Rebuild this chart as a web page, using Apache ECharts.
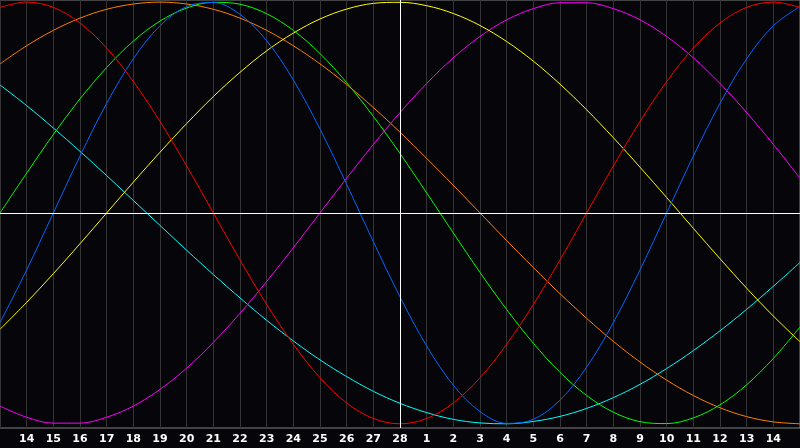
<!DOCTYPE html>
<html>
<head>
<meta charset="utf-8">
<script src="https://cdn.jsdelivr.net/npm/echarts@6/dist/echarts.min.js"></script>
<style>
  html, body { margin: 0; padding: 0; background: #060509; }
  #chart { width: 800px; height: 448px; }
</style>
</head>
<body>
<div id="chart"></div>
<script>
// day labels under each grid line (first and last are off-screen)
var days = ['13', '14', '15', '16', '17', '18', '19', '20', '21', '22', '23', '24', '25', '26', '27', '28',
  '1', '2', '3', '4', '5', '6', '7', '8', '9', '10', '11', '12', '13', '14', '15']

// one value per day (-1 .. 1)
var red = [0.975, 1, 0.975, 0.901, 0.782, 0.623, 0.434, 0.223, 0, -0.223, -0.434, -0.623, -0.782, -0.901, -0.975, -1,
  -0.975, -0.901, -0.782, -0.623, -0.434, -0.223, 0, 0.223, 0.434, 0.623, 0.782, 0.901, 0.975, 1, 0.975]
var green = [0, 0.189, 0.372, 0.541, 0.690, 0.815, 0.910, 0.972, 0.999, 0.990, 0.945, 0.866, 0.756, 0.618, 0.458, 0.282,
  0.095, -0.095, -0.282, -0.458, -0.618, -0.756, -0.866, -0.945, -0.990, -0.999, -0.972, -0.910, -0.815, -0.690, -0.541]
var blue = [-0.520, -0.270, 0, 0.270, 0.520, 0.731, 0.888, 0.979, 0.998, 0.942, 0.817, 0.631, 0.398, 0.136, -0.136, -0.398,
  -0.631, -0.817, -0.942, -0.998, -0.979, -0.888, -0.731, -0.520, -0.270, 0, 0.270, 0.520, 0.731, 0.888, 0.979]
var yellow = [-0.552, -0.424, -0.288, -0.146, 0, 0.146, 0.288, 0.424, 0.552, 0.667, 0.769, 0.853, 0.920, 0.967, 0.994, 0.999,
  0.983, 0.946, 0.889, 0.813, 0.720, 0.611, 0.489, 0.357, 0.217, 0.073, -0.073, -0.217, -0.357, -0.489, -0.611]
var magenta = [-0.916, -0.969, -0.997, -0.997, -0.969, -0.916, -0.837, -0.736, -0.614, -0.476, -0.325, -0.165, 0, 0.165, 0.325, 0.476,
  0.614, 0.736, 0.837, 0.916, 0.969, 0.997, 0.997, 0.969, 0.916, 0.837, 0.736, 0.614, 0.476, 0.325, 0.165]
var orange = [0.707, 0.793, 0.866, 0.924, 0.966, 0.991, 1, 0.991, 0.966, 0.924, 0.866, 0.793, 0.707, 0.609, 0.5, 0.383,
  0.259, 0.131, 0, -0.131, -0.259, -0.383, -0.5, -0.609, -0.707, -0.793, -0.866, -0.924, -0.966, -0.991, -1]
var cyan = [0.607, 0.509, 0.403, 0.292, 0.177, 0.059, -0.059, -0.177, -0.292, -0.403, -0.509, -0.607, -0.697, -0.776, -0.846, -0.903,
  -0.947, -0.979, -0.996, -1, -0.989, -0.965, -0.927, -0.876, -0.813, -0.738, -0.653, -0.559, -0.457, -0.348, -0.235]

var todayIndex = 15 // the white vertical line

function pairs(arr) {
  return arr.map(function (v, i) { return [i, v] })
}

function curve(data, color) {
  return {
    type: 'line',
    data: pairs(data),
    smooth: 0.35,
    symbol: 'none',
    lineStyle: { color: color, width: 1 },
    silent: true
  }
}

var series = [
  curve(cyan, '#00ffff'),
  curve(orange, '#ff8000'),
  curve(magenta, '#ff00ff'),
  curve(yellow, '#ffff00'),
  curve(green, '#00ff00'),
  curve(blue, '#0066ff'),
  curve(red, '#ff0000')
]
// crosshair: today + zero line
series.push({
  type: 'line',
  data: [],
  silent: true,
  markLine: {
    symbol: 'none',
    silent: true,
    label: { show: false },
    lineStyle: { color: '#ffffff', width: 1, type: 'solid' },
    data: [{ xAxis: todayIndex }, { yAxis: 0 }]
  }
})

var chart = echarts.init(document.getElementById('chart'))
chart.setOption({
  animation: false,
  backgroundColor: '#060509',
  grid: {
    left: 0,
    right: 0,
    top: 0,
    bottom: 20,
    show: true,
    borderColor: '#808080',
    borderWidth: 1
  },
  xAxis: {
    type: 'value',
    min: 0,
    max: days.length - 1,
    interval: 1,
    axisLine: { show: true, lineStyle: { color: '#9a9a9a', width: 1 } },
    axisTick: { show: false },
    splitLine: { show: true, lineStyle: { color: '#343434', width: 1 } },
    axisLabel: {
      color: '#ffffff',
      fontFamily: 'DejaVu Sans',
      fontWeight: 'bold',
      fontSize: 11,
      margin: 6,
      showMinLabel: false,
      showMaxLabel: false,
      formatter: function (v) {
        return days[v] || ''
      }
    }
  },
  yAxis: {
    type: 'value',
    min: -1.02,
    max: 1.01,
    axisLine: { show: false },
    axisTick: { show: false },
    axisLabel: { show: false },
    splitLine: { show: false }
  },
  series: series
})
</script>
</body>
</html>
